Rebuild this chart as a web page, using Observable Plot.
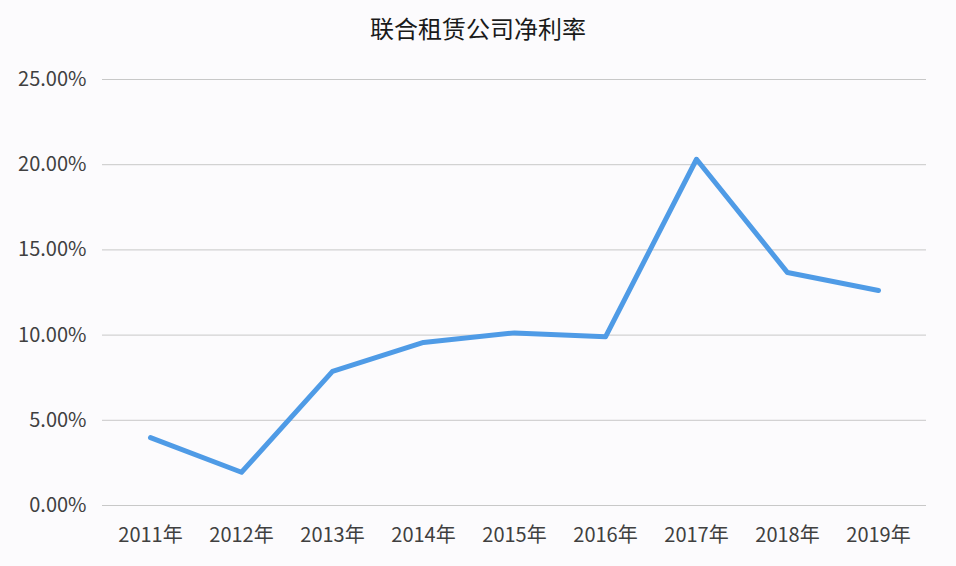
<!DOCTYPE html>
<html>
<head>
<meta charset="utf-8">
<script src="https://cdn.jsdelivr.net/npm/d3@7"></script>
<script src="https://cdn.jsdelivr.net/npm/@observablehq/plot@0.6"></script>
<style>
  html, body { margin: 0; padding: 0; background: #fcfbfd; }
  #title { height: 50px; line-height: 56px; text-align: center; font-family: "Noto Sans CJK SC", sans-serif; font-size: 24px; color: #1a1a1a; width: 956px; }
  svg { display: block; }
</style>
</head>
<body>
<div id="title">联合租赁公司净利率</div>
<div id="chart"></div>
<script>
const years = ["2011年","2012年","2013年","2014年","2015年","2016年","2017年","2018年","2019年"];
const netMargin = [0.0398, 0.0195, 0.0787, 0.0957, 0.1013, 0.0990, 0.2032, 0.1367, 0.1262];
const yTicks = [0, 0.05, 0.10, 0.15, 0.20, 0.25];

const data = years.map((y, i) => ({year: y, value: netMargin[i]}));

const chart = Plot.plot({
  width: 956,
  height: 516,
  marginLeft: 102,
  marginRight: 30,
  marginTop: 29,
  marginBottom: 61,
  style: { background: "#fcfbfd", fontFamily: "'Noto Sans CJK SC', sans-serif", fontSize: "20px", color: "#404040" },
  x: { type: "point", domain: years, padding: 0.5, label: null, tickSize: 0, tickPadding: 22 },
  y: { domain: [0, 0.25], ticks: yTicks, tickFormat: d => (d * 100).toFixed(2) + "%", label: null, tickSize: 0, tickPadding: 16 },
  marks: [
    Plot.ruleY(yTicks, { stroke: "#c8c8c8", strokeWidth: 1 }),
    Plot.line(data, { x: "year", y: "value", stroke: "#4f9be6", strokeWidth: 5, strokeLinejoin: "round", strokeLinecap: "round" })
  ]
});
document.getElementById("chart").appendChild(chart);
</script>
</body>
</html>
